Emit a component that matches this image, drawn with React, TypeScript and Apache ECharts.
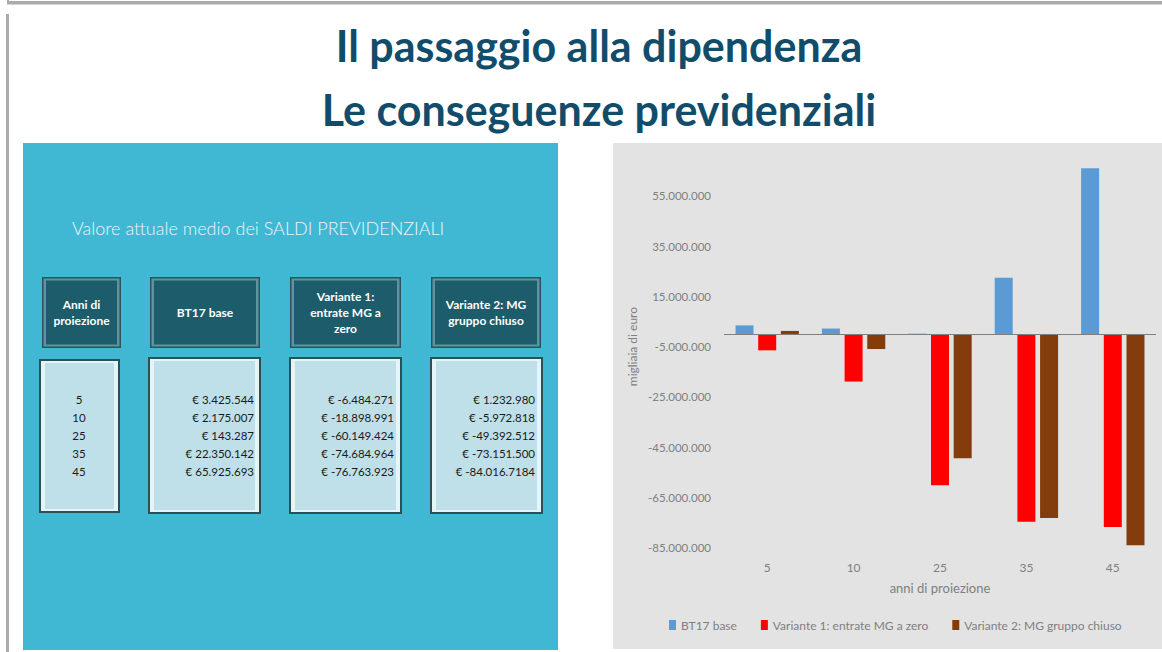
import React, { useEffect, useRef } from "react";
import * as echarts from "echarts";

// ---- data ----
const years = ["5", "10", "25", "35", "45"];
const seriesNames = [
  "BT17 base",
  "Variante 1: entrate MG a zero",
  "Variante 2: MG gruppo chiuso",
];
const bt17Base = [3425544, 2175007, 143287, 22350142, 65925693];
const variante1 = [-6484271, -18898991, -60149424, -74684964, -76763923];
const variante2 = [1232980, -5972818, -49392512, -73151500, -84016718];

// table texts as printed on the slide
const tableBT17 = ["€ 3.425.544", "€ 2.175.007", "€ 143.287", "€ 22.350.142", "€ 65.925.693"];
const tableVar1 = ["€ -6.484.271", "€ -18.898.991", "€ -60.149.424", "€ -74.684.964", "€ -76.763.923"];
const tableVar2 = ["€ 1.232.980", "€ -5.972.818", "€ -49.392.512", "€ -73.151.500", "€ -84.016.7184"];
const tableHeaders = [
  "Anni di\nproiezione",
  "BT17 base",
  "Variante 1:\nentrate MG a\nzero",
  "Variante 2: MG\ngruppo chiuso",
];

const titleLine1 = "Il passaggio alla dipendenza";
const titleLine2 = "Le conseguenze previdenziali";
const panelTitle = "Valore attuale medio dei SALDI PREVIDENZIALI";
const yAxisTitle = "migliaia di euro";
const xAxisTitle = "anni di proiezione";

const colors = ["#5B9BD5", "#FF0000", "#843C0C"];
const FONT = "Lato, 'Open Sans', sans-serif";

const fmtIt = (v: number) => {
  const s = Math.abs(Math.round(v)).toString().replace(/\B(?=(\d{3})+(?!\d))/g, ".");
  return (v < 0 ? "-" : "") + s;
};

function headerBox(x: number, y: number, w: number, h: number, text: string) {
  return {
    type: "group",
    children: [
      { type: "rect", shape: { x, y, width: w, height: h }, style: { fill: "#2E525C" } },
      { type: "rect", shape: { x: x + 1.5, y: y + 1.5, width: w - 3, height: h - 3 }, style: { fill: "#5C94A1" } },
      { type: "rect", shape: { x: x + 4, y: y + 3.5, width: w - 8, height: h - 7 }, style: { fill: "#1D5C6B" } },
      {
        type: "text",
        x: x + w / 2,
        y: y + h / 2,
        style: {
          text,
          fill: "#FFFFFF",
          fontSize: 12,
          fontWeight: "bold",
          fontFamily: FONT,
          textAlign: "center",
          textVerticalAlign: "middle",
          lineHeight: 16,
        },
      },
    ],
  };
}

function valueBox(x: number, y: number, w: number, h: number) {
  return {
    type: "group",
    children: [
      { type: "rect", shape: { x, y, width: w, height: h }, style: { fill: "#2F4F57" } },
      { type: "rect", shape: { x: x + 2, y: y + 2, width: w - 4, height: h - 4 }, style: { fill: "#E4F4F8" } },
      { type: "rect", shape: { x: x + 6, y: y + 4, width: w - 12, height: h - 8 }, style: { fill: "#BFE0E8" } },
    ],
  };
}

const rowY = [399, 417, 435, 453, 471];

function columnTexts(values: string[], x: number, align: string) {
  return values.map((t, i) => ({
    type: "text",
    x,
    y: rowY[i],
    style: {
      text: t,
      fill: "#1A1A1A",
      fontSize: 11.5,
      fontFamily: FONT,
      textAlign: align,
      textVerticalAlign: "middle",
    },
  }));
}

export default function App() {
  const ref = useRef<HTMLDivElement>(null);

  useEffect(() => {
    document.body.style.margin = "0";
    if (!ref.current) return;
    const chart = echarts.init(ref.current, undefined, { renderer: "svg" });

    const graphics: any[] = [
      // frame lines
      { type: "rect", shape: { x: 7, y: 1, width: 1155, height: 3.5 }, style: { fill: "#ABABAB" } },
      { type: "rect", shape: { x: 7, y: 0, width: 2, height: 4 }, style: { fill: "#ABABAB" } },
      { type: "rect", shape: { x: 6, y: 14, width: 3, height: 638 }, style: { fill: "#ABABAB" } },
      // titles
      {
        type: "text",
        x: 599,
        y: 45,
        style: {
          text: titleLine1,
          fill: "#114D6B",
          fontSize: 43,
          fontWeight: "bold",
          fontFamily: FONT,
          textAlign: "center",
          textVerticalAlign: "middle",
        },
      },
      {
        type: "text",
        x: 599,
        y: 109,
        style: {
          text: titleLine2,
          fill: "#114D6B",
          fontSize: 43,
          fontWeight: "bold",
          fontFamily: FONT,
          textAlign: "center",
          textVerticalAlign: "middle",
        },
      },
      // panels
      { type: "rect", shape: { x: 23, y: 143, width: 535, height: 507 }, style: { fill: "#41B8D3" } },
      { type: "rect", shape: { x: 613, y: 143, width: 549, height: 506 }, style: { fill: "#E3E3E3" } },
      {
        type: "text",
        x: 72,
        y: 228,
        style: {
          text: panelTitle,
          fill: "#EAF6FA",
          fontSize: 18,
          fontWeight: 300,
          fontFamily: FONT,
          textAlign: "left",
          textVerticalAlign: "middle",
        },
      },
      headerBox(42, 277, 79, 71, tableHeaders[0]),
      headerBox(150, 277, 110, 71, tableHeaders[1]),
      headerBox(290, 277, 111, 71, tableHeaders[2]),
      headerBox(431, 277, 110, 71, tableHeaders[3]),
      valueBox(39, 359, 81, 154),
      valueBox(148, 357, 113, 157),
      valueBox(289, 357, 113, 157),
      valueBox(430, 357, 113, 157),
      ...columnTexts(years, 79, "center"),
      ...columnTexts(tableBT17, 254, "right"),
      ...columnTexts(tableVar1, 394, "right"),
      ...columnTexts(tableVar2, 535, "right"),
    ];

    const seriesData = [bt17Base, variante1, variante2];

    chart.setOption({
      animation: false,
      backgroundColor: "#FFFFFF",
      textStyle: { fontFamily: FONT },
      graphic: { elements: graphics },
      grid: { left: 724, right: 6, top: 145.4, bottom: 104.2, containLabel: false },
      legend: {
        data: seriesNames,
        left: 664,
        top: 614,
        icon: "rect",
        itemWidth: 7,
        itemHeight: 10,
        itemGap: 24,
        textStyle: { color: "#7F7F7F", fontSize: 12, fontFamily: FONT },
      },
      xAxis: {
        type: "category",
        data: years,
        axisLine: { show: false },
        axisTick: { show: false },
        axisLabel: { color: "#7F7F7F", fontSize: 12, margin: 14, fontFamily: FONT },
        name: xAxisTitle,
        nameLocation: "middle",
        nameGap: 34,
        nameTextStyle: { color: "#7F7F7F", fontSize: 13, fontFamily: FONT },
      },
      yAxis: {
        type: "value",
        min: -85000000,
        max: 75000000,
        interval: 5000000,
        splitLine: { show: false },
        axisLine: { show: false },
        axisTick: { show: false },
        axisLabel: {
          color: "#7F7F7F",
          fontSize: 11.5,
          margin: 13,
          fontFamily: FONT,
          formatter: (v: number) =>
            v <= 55000000 && Math.round((v + 85000000) / 1000000) % 20 === 0 ? fmtIt(v) : "",
        },
        name: yAxisTitle,
        nameLocation: "middle",
        nameRotate: 90,
        nameGap: 86,
        nameTextStyle: { color: "#7F7F7F", fontSize: 12, fontFamily: FONT },
      },
      series: seriesData.map((d, i) => ({
        name: seriesNames[i],
        type: "bar",
        data: d,
        barWidth: 18,
        barGap: "26%",
        itemStyle: { color: colors[i] },
        ...(i === 0
          ? {
              markLine: {
                silent: true,
                symbol: ["none", "none"],
                label: { show: false },
                lineStyle: { color: "#7F7F7F", width: 1, type: "solid" },
                data: [{ yAxis: 0 }],
              },
            }
          : {}),
      })),
    });

    return () => chart.dispose();
  }, []);

  return (
    <div
      ref={ref}
      style={{ position: "absolute", left: 0, top: 0, width: 1162, height: 652 }}
    />
  );
}
